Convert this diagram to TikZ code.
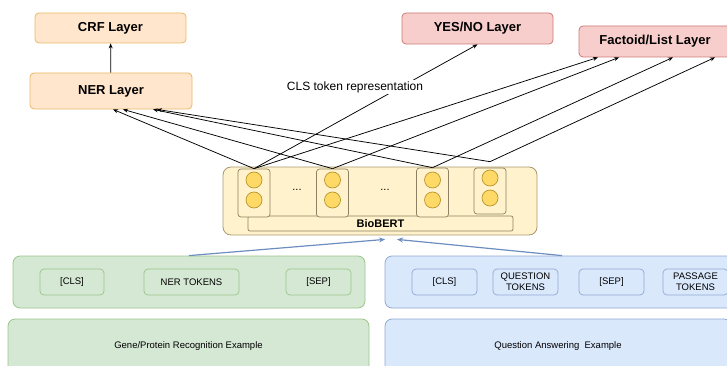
\documentclass[tikz,border=0pt]{standalone}
\usepackage{fontspec}
\setmainfont{Liberation Sans}
\usetikzlibrary{arrows.meta}
\definecolor{orfill}{HTML}{FFE6CC}
\definecolor{ordraw}{HTML}{E8B866}
\definecolor{redfill}{HTML}{F8CECC}
\definecolor{reddraw}{HTML}{CC7A76}
\definecolor{grfill}{HTML}{D5E8D4}
\definecolor{grdraw}{HTML}{9CC48A}
\definecolor{blfill}{HTML}{DAE8FC}
\definecolor{bldraw}{HTML}{8EA9D4}
\definecolor{biofill}{HTML}{FFF2CC}
\definecolor{biodraw}{HTML}{A8986A}
\definecolor{celldraw}{HTML}{8C8160}
\definecolor{dotfill}{HTML}{FFD966}
\definecolor{dotdraw}{HTML}{B8962E}
\definecolor{blarrow}{HTML}{6C8EBF}
\begin{document}
\begin{tikzpicture}[x=1pt,y=-1pt,
  layer/.style={rectangle, rounded corners=4pt, line width=0.8pt, inner sep=0pt, font=\fontsize{13}{15}\selectfont\bfseries},
  orangebox/.style={layer, fill=orfill, draw=ordraw},
  redbox/.style={layer, fill=redfill, draw=reddraw},
  greenbox/.style={rectangle, rounded corners=7pt, line width=0.8pt, inner sep=0pt, fill=grfill, draw=grdraw, font=\fontsize{9.5}{11}\selectfont},
  bluebox/.style={rectangle, rounded corners=7pt, line width=0.8pt, inner sep=0pt, fill=blfill, draw=bldraw, font=\fontsize{9.5}{11}\selectfont},
  tok/.style={rectangle, rounded corners=4pt, line width=0.7pt, inner sep=0pt, minimum height=26pt, minimum width=65pt, align=center, font=\fontsize{9.5}{11}\selectfont},
  gtok/.style={tok, fill=grfill, draw=grdraw},
  btok/.style={tok, fill=blfill, draw=bldraw},
  bioouter/.style={rectangle, rounded corners=8pt, line width=0.8pt, fill=biofill, draw=biodraw, inner sep=0pt},
  biobar/.style={rectangle, rounded corners=2pt, line width=0.7pt, fill=biofill, draw=celldraw, inner sep=0pt, font=\fontsize{11}{13}\selectfont\bfseries},
  cellbox/.style={rectangle, rounded corners=3pt, line width=0.7pt, fill=biofill, draw=celldraw, minimum width=32pt, inner sep=0pt},
  dot/.style={circle, line width=0.7pt, draw=dotdraw, fill=dotfill, minimum size=16pt, inner sep=0pt},
  arr/.style={-{Stealth[length=5pt,width=4pt]}, line width=0.75pt, black},
  bluearr/.style={-{Stealth[length=6pt,width=5pt]}, line width=1.2pt, blarrow}
]
\useasboundingbox (0,0) rectangle (727,366);
\clip (0,0) rectangle (727,366);

% top layers
\node[orangebox, minimum width=151pt, minimum height=30pt] (crf) at (110.5,28) {CRF Layer};
\node[orangebox, minimum width=162pt, minimum height=36pt] (ner) at (111,91) {NER Layer};
\node[redbox, minimum width=151pt, minimum height=31pt] (yn) at (477.5,28.5) {YES/NO Layer};
\node[redbox, minimum width=152pt, minimum height=31pt] (fl) at (655,41.5) {Factoid/List Layer};

% BioBERT
\node[bioouter, minimum width=314pt, minimum height=68pt] (bio) at (380,201) {};
\node[biobar, minimum width=265pt, minimum height=15pt] (biobar) at (380.5,223.5) {BioBERT};
\node[cellbox, minimum height=48pt] (cell1) at (254,193) {};
\node[cellbox, minimum height=48pt] (cell2) at (332.5,193) {};
\node[cellbox, minimum height=49pt] (cell3) at (432.5,192.5) {};
\node[cellbox, minimum height=46pt] (cell4) at (490,191) {};
\node[dot] (d1a) at (254,180) {};
\node[dot] (d1b) at (254,200) {};
\node[dot] (d2a) at (332.5,180) {};
\node[dot] (d2b) at (332.5,200) {};
\node[dot] (d3a) at (432.5,180) {};
\node[dot] (d3b) at (432.5,200) {};
\node[dot] (d4a) at (490,178) {};
\node[dot] (d4b) at (490,198) {};
\node[font=\fontsize{11}{12}\selectfont] (dots1) at (297,190) {...};
\node[font=\fontsize{11}{12}\selectfont] (dots2) at (385,190) {...};

% inputs
\node[greenbox, minimum width=352pt, minimum height=52pt] (gin) at (189,282) {};
\node[gtok, minimum width=64pt] (gcls) at (72,282) {[CLS]};
\node[gtok, minimum width=95pt] (gner) at (191.5,282) {NER TOKENS};
\node[gtok] (gsep) at (318.5,282) {[SEP]};
\node[greenbox, minimum width=361pt, minimum height=54pt] (gex) at (188.5,346) {Gene/Protein Recognition Example};

\node[bluebox, minimum width=370pt, minimum height=52pt] (qin) at (570,282) {};
\node[btok] (qcls) at (444.5,282) {[CLS]};
\node[btok] (qq) at (525.5,282) {QUESTION\\TOKENS};
\node[btok] (qsep) at (611.5,282) {[SEP]};
\node[btok] (qp) at (695.5,282) {PASSAGE\\TOKENS};
\node[bluebox, minimum width=346pt, minimum height=54pt] (qex) at (558,346) {Question Answering\ \ Example};

% connectors
\draw[arr] (ner) -- (crf);
\coordinate (c4top) at ([yshift=6pt]cell4.north);
\draw[arr] (cell1.north) -- ([xshift=2pt]ner.south);
\draw[arr] (cell2.north) -- ([xshift=12pt]ner.south);
\draw[arr] (cell3.north) -- ([xshift=42pt]ner.south);
\draw[arr] (c4top) -- ([xshift=46pt]ner.south);
\draw[arr] (cell1.north) -- ([xshift=-57pt]fl.south);
\draw[arr] (cell2.north) -- ([xshift=-36pt]fl.south);
\draw[arr] (cell3.north) -- ([xshift=18pt]fl.south);
\draw[arr] (c4top) -- ([xshift=60pt]fl.south);
\draw[arr] (cell1.north) -- (yn.south);
\node[fill=white, inner sep=1pt, font=\fontsize{12}{14}\selectfont] (clslbl) at (355,87) {CLS token representation};

\draw[bluearr] (gin.north) -- ([xshift=5pt,yshift=-4pt]bio.south);
\draw[bluearr] ([xshift=-8pt]qin.north) -- ([xshift=17pt,yshift=-4pt]bio.south);
\end{tikzpicture}
\end{document}
